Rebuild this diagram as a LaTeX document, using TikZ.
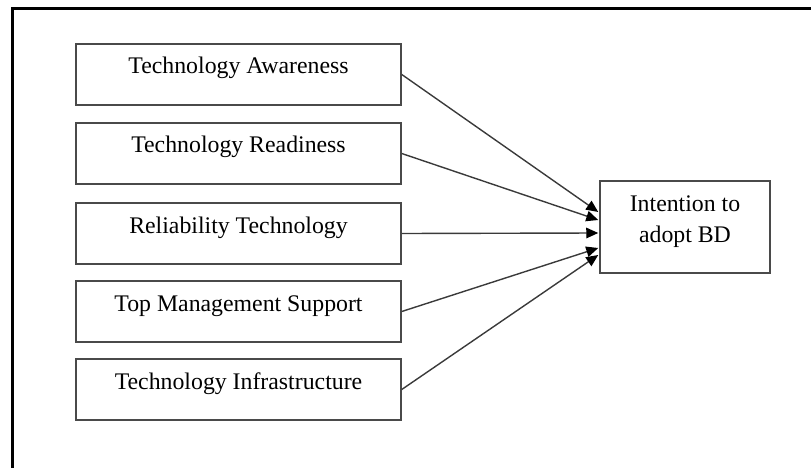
\documentclass[tikz,border=0pt]{standalone}
\usepackage{fontspec}
\setmainfont{Liberation Serif}
\usetikzlibrary{arrows.meta,calc}
\definecolor{boxgray}{HTML}{4A4A4A}
\definecolor{linegray}{HTML}{3A3A3A}
\begin{document}
\begin{tikzpicture}[x=1pt,y=-1pt,
  factor/.style={draw=boxgray, line width=1.5pt, inner sep=0pt,
    minimum width=325pt, text height=30pt, text depth=31pt,
    font=\fontsize{23.8}{28}\selectfont},
  target/.style={draw=boxgray, line width=1.5pt, inner sep=0pt,
    minimum width=170pt, minimum height=92pt, align=center,
    font=\fontsize{23.8}{30.6}\selectfont},
  link/.style={draw=linegray, line width=1.4pt,
    -{Triangle[length=12pt,width=10.5pt,color=black,fill=black]}},
  frame/.style={draw=black, line width=3pt}
]
\useasboundingbox (0,0) rectangle (811,468);
\coordinate (fa) at (12.5,468);
\coordinate (fb) at (12.5,9);
\coordinate (fc) at (811,9);
\draw[frame] (fa) -- (fb) -- (fc);

\node[factor] (b1) at (238.5,74.5) {Technology Awareness};
\node[factor] (b2) at (238.5,153.5) {Technology Readiness};
\node[factor] (b3) at (238.5,233.5) {Reliability Technology};
\node[factor] (b4) at (238.5,311.5) {Top Management Support};
\node[factor] (b5) at (238.5,389.5) {Technology Infrastructure};

\node[target] (it) at (685,227) {Intention to\\adopt BD\rule[-16pt]{0pt}{16pt}};

\coordinate (t1) at ($(it.west)+(-1,-15)$);
\coordinate (t2) at ($(it.west)+(-1,-7)$);
\coordinate (t3) at ($(it.west)+(-1,6)$);
\coordinate (t4) at ($(it.west)+(-1,21)$);
\coordinate (t5) at ($(it.west)+(-1,28)$);

\draw[link] (b1.east) -- (t1);
\draw[link] (b2.east) -- (t2);
\draw[link] (b3.east) -- (t3);
\draw[link] (b4.east) -- (t4);
\draw[link] (b5.east) -- (t5);
\end{tikzpicture}
\end{document}
